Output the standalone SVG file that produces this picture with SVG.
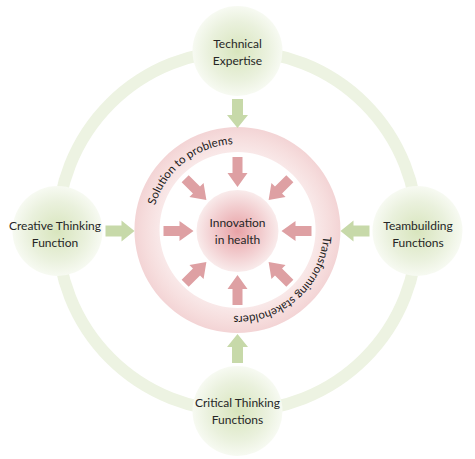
<svg xmlns="http://www.w3.org/2000/svg" xmlns:xlink="http://www.w3.org/1999/xlink" width="475" height="459" viewBox="0 0 475 459">
  <defs>
    <radialGradient id="nodeGrad" cx="0.5" cy="0.5" r="0.5">
      <stop offset="0" stop-color="#d8e5bd"/>
      <stop offset="0.65" stop-color="#eaf1dd"/>
      <stop offset="1" stop-color="#f7faf2"/>
    </radialGradient>
    <radialGradient id="coreGrad" cx="0.5" cy="0.5" r="0.5">
      <stop offset="0" stop-color="#e8a2a6"/>
      <stop offset="0.6" stop-color="#f2cdcf"/>
      <stop offset="1" stop-color="#f9ebeb"/>
    </radialGradient>
    <radialGradient id="ringGrad" gradientUnits="userSpaceOnUse" cx="237.5" cy="230" r="103">
      <stop offset="0.75" stop-color="#f9e9e9"/>
      <stop offset="0.9" stop-color="#f6dddd"/>
      <stop offset="1" stop-color="#f3d4d5"/>
    </radialGradient>
    <path id="pinkArrow" d="M -74 -5 L -58 -5 L -58 -10 L -44 0 L -58 10 L -58 5 L -74 5 Z"/>
    <path id="greenArrow" d="M -132 -5.5 L -116 -5.5 L -116 -10.5 L -103 0 L -116 10.5 L -116 5.5 L -132 5.5 Z"/>
    <path id="textCircle" d="M 151.5 230 A 86 86 0 1 1 323.5 230 A 86 86 0 1 1 151.5 230"/>
  </defs>
  <style>
    .lbl { font-family: Lato, "Open Sans", "Liberation Sans", sans-serif; font-size: 12px; fill: #262626; text-anchor: middle; }
    .arc { font-family: Lato, "Open Sans", "Liberation Sans", sans-serif; font-size: 11.5px; fill: #1a1a1a; }
    .node { fill: url(#nodeGrad); }
    .pink { fill: #dea0a3; }
    .green { fill: #c7d9a9; }
  </style>

  <rect width="475" height="459" fill="#ffffff"/>

  <g id="outer-ring">
    <circle cx="237.5" cy="231" r="180" fill="none" stroke="#edf3e2" stroke-width="12"/>
  </g>

  <g id="center-ring">
    <path d="M 237.5 127 A 103 103 0 1 1 237.4 127 Z M 237.5 152 A 78 78 0 1 0 237.6 152 Z" fill="url(#ringGrad)" fill-rule="evenodd"/>
    <text class="arc"><textPath xlink:href="#textCircle" href="#textCircle" startOffset="25">Solution to problems</textPath></text>
    <text class="arc"><textPath xlink:href="#textCircle" href="#textCircle" startOffset="276">Transforming stakeholders</textPath></text>
  </g>

  <g id="connectors">
    <g transform="translate(237.5 231)">
      <use href="#pinkArrow" class="pink" transform="rotate(0)"/>
      <use href="#pinkArrow" class="pink" transform="rotate(45)"/>
      <use href="#pinkArrow" class="pink" transform="rotate(90)"/>
      <use href="#pinkArrow" class="pink" transform="rotate(135)"/>
      <use href="#pinkArrow" class="pink" transform="rotate(180)"/>
      <use href="#pinkArrow" class="pink" transform="rotate(225)"/>
      <use href="#pinkArrow" class="pink" transform="rotate(270)"/>
      <use href="#pinkArrow" class="pink" transform="rotate(315)"/>
      <use href="#greenArrow" class="green" transform="rotate(0)"/>
      <use href="#greenArrow" class="green" transform="rotate(90)"/>
      <use href="#greenArrow" class="green" transform="rotate(180)"/>
      <use href="#greenArrow" class="green" transform="rotate(270)"/>
    </g>
  </g>

  <g id="node-innovation">
    <circle cx="237.5" cy="231" r="41" fill="url(#coreGrad)"/>
    <text class="lbl" x="237.5" y="227">Innovation</text>
    <text class="lbl" x="237.5" y="244">in health</text>
  </g>

  <g id="node-technical">
    <circle class="node" cx="237.5" cy="51" r="45"/>
    <text class="lbl" x="237.5" y="48">Technical</text>
    <text class="lbl" x="237.5" y="65">Expertise</text>
  </g>

  <g id="node-creative">
    <circle class="node" cx="57.5" cy="231" r="45"/>
    <text class="lbl" x="55" y="230">Creative Thinking</text>
    <text class="lbl" x="55" y="247">Function</text>
  </g>

  <g id="node-teambuilding">
    <circle class="node" cx="417.5" cy="231" r="45"/>
    <text class="lbl" x="418" y="230">Teambuilding</text>
    <text class="lbl" x="418" y="247">Functions</text>
  </g>

  <g id="node-critical">
    <circle class="node" cx="237.5" cy="411" r="45"/>
    <text class="lbl" x="237.5" y="407">Critical Thinking</text>
    <text class="lbl" x="237.5" y="424">Functions</text>
  </g>
</svg>
